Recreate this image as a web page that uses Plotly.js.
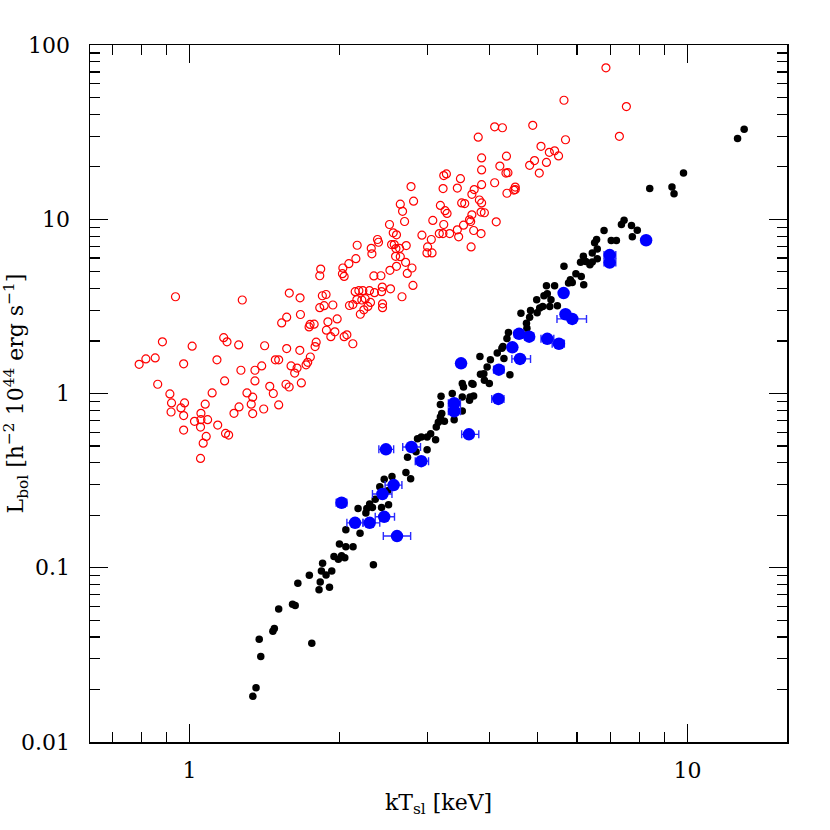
<!DOCTYPE html>
<html>
<head>
<meta charset="utf-8">
<script src="https://cdn.plot.ly/plotly-3.0.1.min.js"></script>
<style>
    body { margin: 0; background: #ffffff; }
    #lx-chart { width: 830px; height: 830px; }
</style>
</head>
<body>
<div id="lx-chart"></div>
<script>
// Red open circles (upper sequence)
var redKT = [0.792, 0.817, 0.853, 0.882, 0.937, 0.863, 0.913, 0.920, 0.918, 0.973,
    1.012, 0.977, 0.961, 0.973, 0.973, 1.023, 1.054, 1.054, 1.052, 1.087,
    1.075, 1.080, 1.065, 1.052, 1.110, 1.139, 1.135, 1.171, 1.189, 1.176,
    1.181, 1.198, 1.228, 1.255, 1.276, 1.268, 1.257, 1.304, 1.339, 1.330,
    1.339, 1.353, 1.353, 1.396, 1.409, 1.415, 1.449, 1.473, 1.510, 1.487,
    1.510, 1.531, 1.567, 1.567, 1.586, 1.599, 1.626, 1.644, 1.562, 1.585,
    1.677, 1.665, 1.667, 1.670, 1.714, 1.727, 1.748, 1.738, 1.746, 1.779,
    1.796, 1.787, 1.826, 1.834, 1.826, 1.848, 1.880, 1.863, 1.940, 1.896,
    1.883, 1.922, 1.958, 1.979, 2.044, 2.070, 2.128, 2.028, 2.044, 2.032,
    2.089, 2.158, 2.171, 2.095, 2.128, 2.151, 2.188, 2.229, 2.168, 2.218,
    2.253, 2.281, 2.239, 2.203, 2.298, 2.352, 2.309, 2.345, 2.324, 2.317,
    2.396, 2.423, 2.430, 2.438, 2.441, 2.441, 2.533, 2.526, 2.671, 2.604,
    2.716, 2.737, 2.545, 2.577, 2.597, 2.641, 2.724, 2.593, 2.650, 2.565,
    2.604, 2.810, 2.797, 2.929, 3.059, 3.174, 3.228, 3.330, 3.471, 3.721,
    3.850, 3.007, 2.998, 3.069, 3.677, 2.785, 2.818, 2.650, 2.678, 2.703,
    2.521, 2.385, 6.86, 5.65, 7.54, 7.30, 5.69, 4.89, 4.10, 4.25,
    3.80, 5.08, 5.28, 5.41, 5.51, 4.93, 4.82, 5.21, 5.04, 4.33,
    3.86, 4.20, 3.86, 4.32, 4.36, 3.24, 3.28, 3.50, 4.10, 3.86,
    3.23, 3.45, 4.51, 4.51, 4.48, 4.34, 3.69, 3.73, 3.82, 3.86,
    3.52, 3.57, 3.19, 3.26, 3.29, 3.85, 3.91, 3.69, 3.65, 3.67,
    4.13, 3.08, 3.24, 3.55, 3.45];
var redLbol = [1.47, 1.58, 1.60, 1.98, 3.59, 1.13, 0.995, 0.883, 0.783, 1.48,
    1.87, 0.883, 0.826, 0.747, 0.617, 0.692, 0.770, 0.708, 0.642, 0.708,
    0.868, 0.567, 0.519, 0.424, 1.008, 0.659, 1.56, 2.09, 1.98, 1.18,
    0.590, 0.577, 0.770, 1.90, 3.44, 1.36, 0.837, 1.008, 0.952, 0.868,
    0.767, 1.36, 1.18, 1.44, 0.815, 1.88, 1.10, 1.00, 0.860, 1.56,
    1.56, 2.54, 2.74, 1.81, 3.77, 1.44, 1.31, 1.40, 1.13, 1.09,
    1.15, 1.77, 3.54, 2.84, 1.46, 1.51, 1.62, 2.41, 2.49, 2.50,
    1.97, 1.86, 4.74, 5.18, 3.11, 3.64, 3.70, 3.19, 3.22, 2.58,
    2.31, 2.12, 2.26, 2.68, 2.12, 2.17, 1.93, 4.87, 4.70, 5.25,
    5.56, 5.94, 7.09, 3.20, 3.24, 3.84, 3.89, 3.89, 3.46, 3.44,
    3.50, 3.16, 3.02, 2.85, 3.89, 3.79, 3.33, 4.73, 6.33, 6.81,
    7.38, 4.74, 3.84, 4.08, 3.27, 3.11, 3.99, 5.09, 3.59, 5.37,
    5.66, 4.89, 7.16, 7.16, 6.79, 6.81, 7.06, 6.13, 6.10, 8.36,
    8.14, 4.17, 5.25, 8.10, 7.65, 8.28, 8.28, 8.28, 7.93, 8.62,
    8.28, 6.94, 6.41, 6.41, 6.94, 15.4, 12.7, 12.2, 11.1, 9.71,
    9.33, 7.65, 74.0, 48.2, 44.3, 29.9, 28.6, 34.6, 33.9, 33.5,
    29.6, 26.2, 24.2, 24.7, 23.1, 21.7, 20.4, 21.2, 18.4, 23.0,
    22.5, 20.2, 19.2, 18.4, 18.5, 17.8, 18.2, 17.1, 16.2, 15.8,
    15.0, 15.1, 15.3, 14.8, 14.7, 14.1, 13.9, 14.8, 12.9, 12.4,
    12.4, 12.3, 12.0, 11.2, 10.8, 11.0, 10.9, 10.6, 9.93, 9.71,
    9.67, 9.84, 9.33, 9.25, 8.70];

// Black filled dots (lower sequence)
var blackKT = [12.61, 13.00, 9.82, 8.40, 9.31, 9.40, 7.46, 7.37, 7.72, 7.93,
    7.75, 6.80, 7.03, 7.20, 6.57, 6.51, 6.59, 6.44, 6.59, 6.44,
    6.18, 6.25, 6.10, 6.37, 5.65, 5.97, 6.12, 5.82, 5.77, 6.19,
    5.41, 5.21, 5.23, 5.15, 5.32, 5.48, 5.29, 4.98, 5.12, 5.05,
    4.99, 4.84, 4.63, 4.82, 4.75, 4.76, 4.37, 4.34, 4.26, 4.24,
    4.15, 4.02, 3.83, 4.28, 3.96, 3.90, 3.84, 4.40, 4.00, 3.69,
    3.53, 3.55, 5.87, 3.91, 3.71, 3.53, 3.66, 3.72, 3.65, 3.53,
    3.37, 3.40, 3.20, 3.19, 3.25, 3.21, 3.19, 3.16, 3.13, 3.12,
    3.05, 3.00, 3.00, 2.92, 2.87, 2.85, 2.74, 2.72, 2.78, 2.55,
    2.46, 2.41, 2.50, 2.36, 2.51, 2.43, 2.33, 2.30, 2.27, 2.26,
    2.18, 2.20, 2.06, 2.00, 2.06, 2.13, 1.34, 1.36, 1.39, 1.38,
    1.47, 1.48, 1.51, 1.61, 1.63, 1.76, 1.65, 1.74, 1.82, 1.83,
    1.91, 1.84, 1.85, 1.88, 1.93, 1.95, 1.99, 2.02, 2.05, 2.34];
var blackLbol = [29.1, 32.8, 18.4, 15.0, 15.3, 14.0, 9.88, 9.33, 9.21, 8.65,
    7.93, 8.62, 7.55, 7.55, 7.65, 7.32, 6.76, 6.41, 5.94, 5.69,
    6.13, 5.73, 5.66, 5.49, 5.37, 4.87, 4.70, 4.50, 4.31, 4.21,
    4.15, 4.15, 3.74, 3.64, 3.45, 3.19, 3.16, 3.45, 3.16, 3.09,
    2.91, 2.99, 2.89, 2.74, 2.53, 2.37, 2.24, 2.07, 1.86, 1.82,
    1.71, 1.56, 1.63, 1.59, 1.42, 1.30, 1.29, 1.28, 1.14, 1.14,
    1.14, 1.09, 4.34, 1.19, 1.13, 0.956, 0.956, 0.969, 0.915, 0.794,
    1.00, 0.708, 0.965, 0.864, 0.692, 0.767, 0.733, 0.683, 0.642, 0.543,
    0.588, 0.562, 0.476, 0.562, 0.550, 0.463, 0.431, 0.352, 0.324, 0.334,
    0.322, 0.292, 0.277, 0.247, 0.230, 0.222, 0.222, 0.232, 0.219, 0.206,
    0.219, 0.158, 0.165, 0.137, 0.132, 0.132, 0.0183, 0.0205, 0.0309, 0.0389,
    0.0432, 0.0448, 0.0579, 0.0618, 0.0608, 0.0369, 0.0814, 0.0905, 0.0748, 0.0828,
    0.0772, 0.0958, 0.106, 0.0909, 0.0958, 0.116, 0.112, 0.117, 0.114, 0.104];

// Blue points with horizontal error bars
var blueKT = [8.26, 6.98, 6.98, 5.64, 5.69, 5.87, 5.23, 5.52, 4.81, 4.59,
    4.45, 4.61, 4.18, 3.51, 3.40, 3.40, 3.64, 2.48, 2.79, 2.92,
    2.02, 2.15, 2.30, 2.46, 2.61, 2.44, 2.57, 4.17];
var blueLbol = [7.58, 6.23, 5.64, 3.77, 2.85, 2.68, 2.06, 1.93, 2.12, 2.20,
    1.84, 1.58, 1.37, 1.49, 0.879, 0.791, 0.583, 0.478, 0.493, 0.409,
    0.236, 0.181, 0.181, 0.196, 0.152, 0.265, 0.298, 0.931];
var blueErrMinus = [0.05, 0.18, 0.18, 0.05, 0.1, 0.4, 0.15, 0.17, 0.1, 0.1,
    0.08, 0.17, 0.1, 0.06, 0.09, 0.09, 0.12, 0.08, 0.11, 0.08,
    0.05, 0.08, 0.07, 0.1, 0.16, 0.11, 0.1, 0.125];
var blueErrPlus = [0.05, 0.2, 0.2, 0.05, 0.1, 0.4, 0.16, 0.14, 0.1, 0.1,
    0.08, 0.23, 0.1, 0.06, 0.1, 0.1, 0.17, 0.09, 0.12, 0.1,
    0.05, 0.08, 0.11, 0.12, 0.17, 0.11, 0.1, 0.11];

var xTickVals = [1, 10];
var xTickText = ['1', '10'];
var yTickVals = [0.01, 0.1, 1, 10, 100];
var yTickText = ['0.01', '0.1', '1', '10', '100'];

var fontFamily = 'DejaVu Serif, Liberation Serif, serif';

var traceRed = {
    x: redKT,
    y: redLbol,
    type: 'scatter',
    mode: 'markers',
    name: 'red',
    marker: {symbol: 'circle-open', size: 8, color: '#ff0000', line: {width: 1.2, color: '#ff0000'}}
};

var traceBlack = {
    x: blackKT,
    y: blackLbol,
    type: 'scatter',
    mode: 'markers',
    name: 'black',
    marker: {symbol: 'circle', size: 7.5, color: '#000000'}
};

var traceBlue = {
    x: blueKT,
    y: blueLbol,
    type: 'scatter',
    mode: 'markers',
    name: 'blue',
    marker: {symbol: 'circle', size: 12.5, color: '#0000ff'},
    error_x: {
        type: 'data',
        symmetric: false,
        array: blueErrPlus,
        arrayminus: blueErrMinus,
        color: '#2a2aff',
        thickness: 1.4,
        width: 4
    }
};

var axisCommon = {
    type: 'log',
    showgrid: false,
    zeroline: false,
    showline: true,
    linecolor: '#000000',
    linewidth: 1.5,
    mirror: 'allticks',
    ticks: 'inside',
    ticklen: 18,
    tickwidth: 1.2,
    tickcolor: '#000000',
    tickmode: 'array',
    tickfont: {family: fontFamily, size: 22, color: '#000000'},
    minor: {ticks: 'inside', ticklen: 10, tickwidth: 1.2, tickcolor: '#000000', dtick: 'D1', showgrid: false}
};

var layout = {
    width: 830,
    height: 830,
    margin: {l: 90, r: 43, t: 45, b: 88},
    paper_bgcolor: '#ffffff',
    plot_bgcolor: '#ffffff',
    showlegend: false,
    xaxis: Object.assign({}, axisCommon, {
        range: [-0.2, 1.2],
        tickvals: xTickVals,
        ticktext: xTickText,
        ticklabelstandoff: 8,
        title: {text: 'kT<sub>sl</sub> [keV]', font: {family: fontFamily, size: 22, color: '#000000'}, standoff: 12}
    }),
    yaxis: Object.assign({}, axisCommon, {
        range: [-2, 2],
        tickvals: yTickVals,
        ticktext: yTickText,
        ticklabelstandoff: 14,
        title: {text: 'L<sub>bol</sub> [h<sup>−2</sup> 10<sup>44</sup> erg s<sup>−1</sup>]', font: {family: fontFamily, size: 22, color: '#000000'}, standoff: 2}
    })
};

Plotly.newPlot('lx-chart', [traceRed, traceBlack, traceBlue], layout, {displayModeBar: false, staticPlot: true});
</script>
</body>
</html>
